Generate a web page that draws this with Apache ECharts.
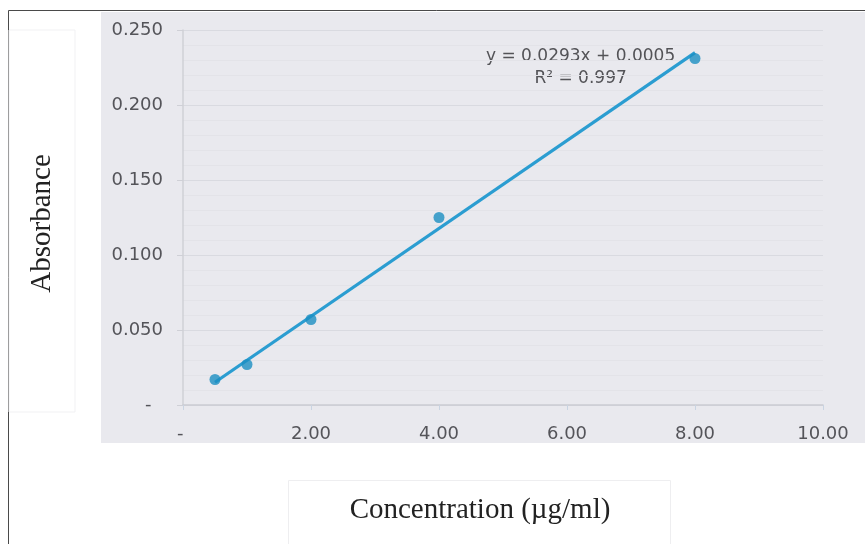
<!DOCTYPE html>
<html>
<head>
<meta charset="utf-8">
<script src="https://cdn.jsdelivr.net/npm/echarts@6/dist/echarts.min.js"></script>
<style>
  html, body { margin: 0; padding: 0; background: #fff; }
  #main { width: 865px; height: 544px; }
</style>
</head>
<body>
<div id="main"></div>
<script>
// measured standards
var concentration = [0.5, 1, 2, 4, 8];
var absorbance = [0.017, 0.027, 0.057, 0.125, 0.231];

// excel linear trendline, as printed on the chart
var slope = 0.0293;
var intercept = 0.0005;
var rSquared = 0.997;

var xTicks = [0, 2, 4, 6, 8, 10];
var yTicks = [0, 0.05, 0.10, 0.15, 0.20, 0.25];

var points = concentration.map(function (c, i) { return [c, absorbance[i]]; });
var xFirst = concentration[0];
var xLast = concentration[concentration.length - 1];
var trend = [
    [xFirst, slope * xFirst + intercept],
    [xLast, slope * xLast + intercept]
];

var chart = echarts.init(document.getElementById('main'), null, { renderer: 'canvas' });

var tickFont = {
    fontFamily: 'DejaVu Sans',
    fontSize: 18,
    color: '#545459'
};

var option = {
    animation: false,
    backgroundColor: '#ffffff',
    graphic: [
        // gray chart area
        {
            type: 'rect', z: -10,
            shape: { x: 101, y: 12, width: 764, height: 431 },
            style: { fill: '#e9e9ee' }
        },
        // frame (left and top edge)
        {
            type: 'polyline', z: -5,
            shape: { points: [[8.5, 544], [8.5, 10.5], [865, 10.5]] },
            style: { stroke: '#4a4a4a', lineWidth: 1, fill: null }
        },
        // boxes round the axis titles
        {
            type: 'rect', z: -5,
            shape: { x: 9, y: 30, width: 66, height: 382 },
            style: { fill: '#ffffff', stroke: '#f1f1f3', lineWidth: 1 }
        },
        {
            type: 'rect', z: -5,
            shape: { x: 288.5, y: 480.5, width: 382, height: 70 },
            style: { fill: '#ffffff', stroke: '#eeeef0', lineWidth: 1 }
        },
        {
            type: 'text', left: 486, top: 46,
            style: {
                text: 'y = ' + slope + 'x + ' + intercept.toFixed(4) + '\nR² = ' + rSquared,
                fontFamily: 'DejaVu Sans', fontSize: 17, fill: '#535357',
                textAlign: 'center', lineHeight: 22
            }
        }
    ],
    grid: {
        left: 183,
        right: 42,
        top: 30,
        bottom: 139
    },
    xAxis: {
        type: 'value',
        min: xTicks[0],
        max: xTicks[xTicks.length - 1],
        interval: 2,
        name: 'Concentration (µg/ml)',
        nameLocation: 'middle',
        nameGap: 91,
        nameTextStyle: {
            fontFamily: 'Liberation Serif',
            fontSize: 29,
            color: '#222222',
            padding: [0, 46, 0, 0]
        },
        axisLine: { lineStyle: { color: '#cacbd2', width: 1.5 } },
        axisTick: { show: true, length: 5, lineStyle: { color: '#c9d4e2' } },
        axisLabel: Object.assign({
            margin: 20,
            formatter: function (v) { return v === 0 ? '- ' : v.toFixed(2); }
        }, tickFont),
        splitLine: { show: false }
    },
    yAxis: {
        type: 'value',
        min: yTicks[0],
        max: yTicks[yTicks.length - 1],
        interval: 0.05,
        name: 'Absorbance',
        nameLocation: 'middle',
        nameGap: 126,
        nameTextStyle: {
            fontFamily: 'Liberation Serif',
            fontSize: 29,
            color: '#222222',
            padding: [0, 12, 0, 0]
        },
        axisLine: { show: true, lineStyle: { color: '#cfd0d6', width: 1.5 } },
        axisTick: { show: true, length: 6, lineStyle: { color: '#cfd0d6' } },
        axisLabel: Object.assign({
            margin: 20,
            formatter: function (v) { return v === 0 ? '-  ' : v.toFixed(3); }
        }, tickFont),
        splitLine: { show: true, lineStyle: { color: '#d9dae0', width: 1 } },
        minorTick: { show: false, splitNumber: 5 },
        minorSplitLine: { show: true, lineStyle: { color: '#e3e3e8', width: 1 } }
    },
    series: [
        {
            name: 'Linear (Absorbance)',
            type: 'line',
            data: trend,
            showSymbol: false,
            symbol: 'none',
            lineStyle: { color: '#2b9dd1', width: 3.2 },
            z: 3
        },
        {
            name: 'Absorbance',
            type: 'scatter',
            data: points,
            symbolSize: 11,
            itemStyle: { color: '#1b8fc2' },
            z: 4
        }
    ]
};

chart.setOption(option);
</script>
</body>
</html>
